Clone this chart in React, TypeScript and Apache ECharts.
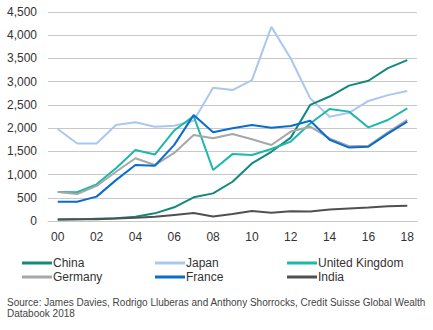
import React, { useEffect, useRef } from "react";
import * as echarts from "echarts";

const years = ["00","01","02","03","04","05","06","07","08","09","10","11","12","13","14","15","16","17","18"];
const china = [30,35,50,60,90,165,295,510,595,845,1240,1490,1795,2500,2680,2915,3020,3290,3465];
const japan = [1980,1670,1670,2065,2125,2030,2050,2160,2870,2820,3035,4180,3500,2640,2245,2330,2585,2710,2800];
const uk = [625,620,790,1135,1530,1430,1950,2260,1100,1440,1420,1550,1710,2100,2410,2355,2015,2175,2425];
const germany = [625,580,755,1060,1350,1205,1465,1850,1780,1875,1760,1636,1925,2030,1780,1610,1620,1910,2180];
const france = [415,415,525,880,1205,1190,1640,2280,1910,1995,2065,2010,2045,2160,1750,1580,1600,1880,2140];
const india = [30,35,40,55,70,90,130,170,95,150,215,180,210,205,250,270,290,320,330];

const seriesNames = ["China","Japan","United Kingdom","Germany","France","India"];
const seriesData = [china, japan, uk, germany, france, india];
const colors = ["#13897c","#aac8ee","#1db8a8","#a7a7a7","#0a6ccc","#505050"];
const legendPos = [[22,257],[155,257],[287,257],[22,271],[155,271],[287,271]];

export default function App() {
  const ref = useRef<HTMLDivElement>(null);
  useEffect(() => {
    document.body.style.margin = "0";
    const chart = echarts.init(ref.current!, null, { renderer: "svg" });
    const font = "'Liberation Sans', Arial, sans-serif";
    chart.setOption({
      animation: false,
      textStyle: { fontFamily: font },
      grid: { left: 48, right: 16, top: 12, bottom: 109 },
      xAxis: {
        type: "category",
        data: years,
        boundaryGap: true,
        axisLine: { show: true, lineStyle: { color: "#c8c8c8" } },
        axisTick: { show: false },
        axisLabel: { interval: 1, color: "#333", fontSize: 12, fontFamily: font, margin: 10 },
      },
      yAxis: {
        type: "value",
        min: 0,
        max: 4500,
        interval: 500,
        axisLine: { show: false },
        axisTick: { show: false },
        axisLabel: {
          color: "#333",
          fontSize: 12,
          fontFamily: font,
          margin: 11,
          formatter: (v: number) => v.toLocaleString("en-US"),
        },
        splitLine: { lineStyle: { color: "#c8c8c8", width: 1 } },
      },
      legend: seriesNames.map((n, i) => ({
        data: [n],
        left: legendPos[i][0],
        top: legendPos[i][1],
        itemWidth: 30,
        itemHeight: 3,
        itemGap: 2,
        padding: 0,
        icon: "rect",
        textStyle: { color: "#333", fontSize: 12, fontFamily: font, padding: [0, 0, 0, -4] },
      })),
      series: seriesNames.map((n, i) => ({
        name: n,
        type: "line",
        data: seriesData[i],
        symbol: "none",
        color: colors[i],
        lineStyle: { width: 2, color: colors[i] },
        z: i === 1 ? 1 : 2,
      })),
      graphic: [
        {
          type: "text",
          left: 7,
          top: 297,
          style: {
            text: "Source: James Davies, Rodrigo Lluberas and Anthony Shorrocks, Credit Suisse Global Wealth\nDatabook 2018",
            fill: "#444",
            font: "10px 'Liberation Sans', Arial, sans-serif",
            lineHeight: 11,
          },
        },
      ],
    });
    return () => chart.dispose();
  }, []);
  return <div ref={ref} style={{ width: 433, height: 330 }} />;
}
